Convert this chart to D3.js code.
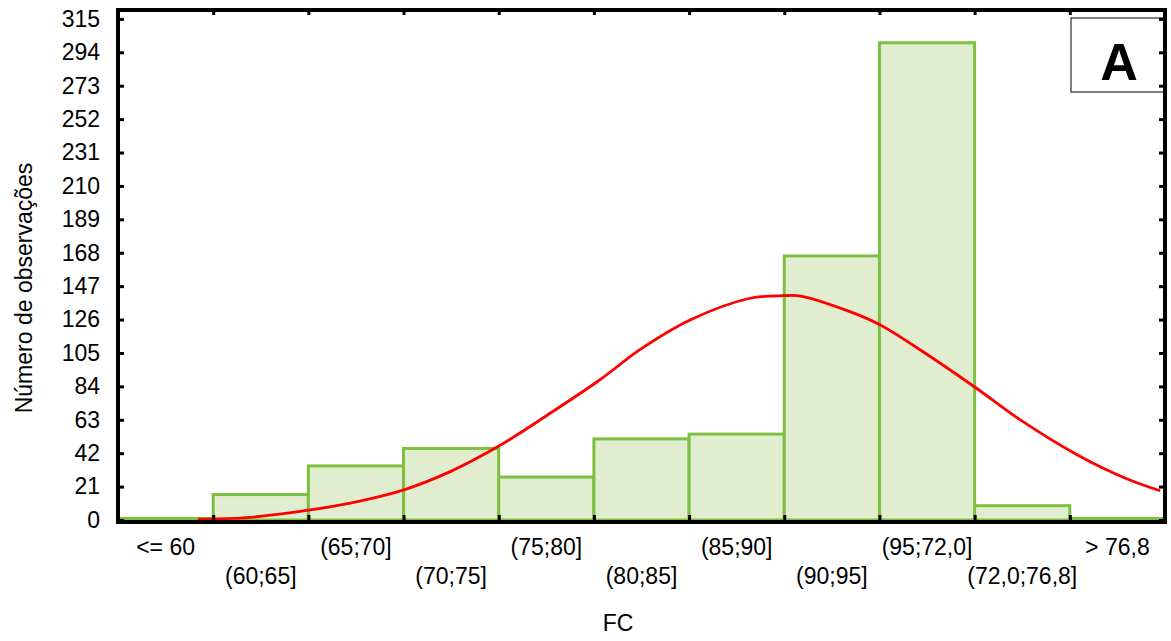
<!DOCTYPE html>
<html>
<head>
<meta charset="utf-8">
<script src="https://cdn.jsdelivr.net/npm/d3@7"></script>
<style>
  html, body { margin: 0; padding: 0; background: #fff; }
  svg { display: block; font-family: "Liberation Sans", Arial, sans-serif; }
</style>
</head>
<body>
<svg id="chart" width="1171" height="641"></svg>
<script>
// Histogram classes of FC and observed counts
const categories = ["<= 60", "(60;65]", "(65;70]", "(70;75]", "(75;80]", "(80;85]",
                    "(85;90]", "(90;95]", "(95;72,0]", "(72,0;76,8]", "> 76,8"];
const counts = [1, 16, 34, 45, 27, 51, 54, 166, 300, 9, 1];

// Fitted normal curve: position in class units (0..11) and expected count
const curvePos = [0.84, 1.39, 2.02, 2.54, 3.02, 3.49, 4.01, 4.54, 5.06, 5.48,
                  6.01, 6.64, 6.99, 7.17, 7.69, 8.01, 8.35, 9.00, 9.48, 10.08, 10.63, 10.95];
const curveVal = [0.6, 1.7, 6.3, 11.9, 19.3, 30.4, 46.8, 67.1, 88.0, 106.9,
                  125.7, 139.4, 141.0, 140.8, 131.0, 122.6, 110.0, 83.6, 62.9, 40.9, 25.1, 18.4];

const yTicks = [0, 21, 42, 63, 84, 105, 126, 147, 168, 189, 210, 231, 252, 273, 294, 315];
const xTitle = "FC";
const yTitle = "Número de observações";
const panelLabel = "A";

const svg = d3.select("#chart");
const plotL = 118, plotR = 1165, plotT = 10, plotB = 520;

const xBand = d3.scaleBand().domain(categories).range([plotL, plotR]).padding(0);
const xPos = d3.scaleLinear().domain([0, categories.length]).range([plotL, plotR]);
const y = d3.scaleLinear().domain([0, 320.6]).range([plotB, plotT]);

const fontSize = 23;

// bars
svg.append("g")
  .selectAll("rect")
  .data(categories.map((c, i) => ({ c, v: counts[i] })))
  .join("rect")
  .attr("x", d => xBand(d.c))
  .attr("y", d => y(d.v))
  .attr("width", xBand.bandwidth())
  .attr("height", d => y(0) - y(d.v))
  .attr("fill", "#e0eecf")
  .attr("stroke", "#7dbf3f")
  .attr("stroke-width", 3);

// normal curve
svg.append("clipPath").attr("id", "plotClip")
  .append("rect").attr("x", plotL).attr("y", plotT).attr("width", plotR - plotL).attr("height", plotB - plotT);

const line = d3.line()
  .x(d => xPos(d[0]))
  .y(d => y(d[1]))
  .curve(d3.curveCatmullRom);

svg.append("path")
  .datum(curvePos.map((p, i) => [p, curveVal[i]]))
  .attr("d", line)
  .attr("fill", "none")
  .attr("stroke", "#ff0000")
  .attr("stroke-width", 2.8)
  .attr("clip-path", "url(#plotClip)");

// panel label box
svg.append("rect")
  .attr("x", 1071).attr("y", 18).attr("width", plotR - 1071).attr("height", 74)
  .attr("fill", "#fff").attr("stroke", "#000").attr("stroke-width", 1);
svg.append("text")
  .attr("x", 1119).attr("y", 80)
  .attr("text-anchor", "middle")
  .attr("font-size", 52).attr("font-weight", "bold")
  .text(panelLabel);

// left axis
const gLeft = svg.append("g").attr("transform", `translate(${plotL},0)`)
  .call(d3.axisLeft(y).tickValues(yTicks).tickSizeInner(-6).tickSizeOuter(0).tickPadding(18));
gLeft.select(".domain").remove();
gLeft.selectAll(".tick line").attr("stroke-width", 3);
gLeft.selectAll(".tick text").attr("font-size", fontSize).attr("fill", "#000");

// right axis ticks
const gRight = svg.append("g").attr("transform", `translate(${plotR},0)`)
  .call(d3.axisRight(y).tickValues(yTicks).tickSizeInner(-6).tickSizeOuter(0).tickFormat(""));
gRight.select(".domain").remove();
gRight.selectAll(".tick line").attr("stroke-width", 3);

// bottom boundary ticks
const bounds = d3.range(1, categories.length);
const gBottomTicks = svg.append("g").attr("transform", `translate(0,${plotB})`)
  .call(d3.axisBottom(xPos).tickValues(bounds).tickSizeInner(-5).tickSizeOuter(0).tickFormat(""));
gBottomTicks.select(".domain").remove();
gBottomTicks.selectAll(".tick line").attr("stroke-width", 3);

// top boundary ticks
const gTop = svg.append("g").attr("transform", `translate(0,${plotT})`)
  .call(d3.axisTop(xPos).tickValues(bounds).tickSizeInner(-5).tickSizeOuter(0).tickFormat(""));
gTop.select(".domain").remove();
gTop.selectAll(".tick line").attr("stroke-width", 3);

// category labels, staggered on two rows
const gBottom = svg.append("g").attr("transform", `translate(0,${plotB})`)
  .call(d3.axisBottom(xBand).tickSize(0).tickPadding(0));
gBottom.select(".domain").remove();
gBottom.selectAll(".tick text")
  .attr("font-size", fontSize).attr("fill", "#000")
  .attr("dy", null)
  .attr("y", (d, i) => i % 2 === 0 ? 35 : 64);

// plot frame (bottom edge sits just under the zero line)
svg.append("rect")
  .attr("x", plotL).attr("y", plotT).attr("width", plotR - plotL).attr("height", plotB + 2 - plotT)
  .attr("fill", "none").attr("stroke", "#000").attr("stroke-width", 4);

// axis titles
svg.append("text")
  .attr("x", 618).attr("y", 631)
  .attr("text-anchor", "middle").attr("font-size", fontSize)
  .text(xTitle);
svg.append("text")
  .attr("transform", "translate(32,288) rotate(-90)")
  .attr("text-anchor", "middle").attr("font-size", fontSize)
  .text(yTitle);
</script>
</body>
</html>
